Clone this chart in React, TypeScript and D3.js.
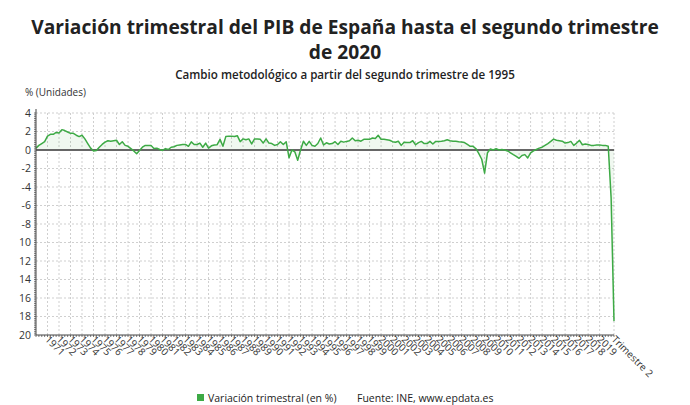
import React from "react";
import * as d3 from "d3";

// Quarterly GDP variation (%), 1970 Q1 .. 2020 Q2
const values1970s = [
  0.2, 0.5, 0.7, 0.9, 1.5, 1.7, 1.7, 1.9, 1.85, 2.2, 2.1, 1.95, 1.8, 1.8, 1.6, 1.45,
  1.6, 1.2, 0.7, 0.2, -0.1, -0.05, 0.3, 0.6, 0.85, 1.0, 0.95, 1.0, 1.05, 0.6, 0.9, 0.5,
  0.4, 0.15, -0.1, -0.4, -0.05, 0.3, 0.5, 0.5,
];
const values1980s = [
  0.5, 0.15, 0.2, 0.05, -0.05, 0.15, 0.05, 0.3, 0.35, 0.5, 0.55, 0.6, 0.6, 0.4, 0.88, 0.6,
  0.6, 0.75, 0.3, 0.75, 0.2, 0.45, 0.55, 0.57, 1.15, 0.4, 1.45, 1.5, 1.5, 1.45, 1.55, 0.9,
  1.2, 1.1, 1.2, 0.65, 1.2, 1.2, 1.15, 0.75,
];
const values1990s = [
  1.2, 0.75, 0.7, 0.5, 0.6, 0.9, 0.6, 0.9, -0.85, 0.0, -0.2, -1.1, 0.0, 0.95, 0.5, 0.93,
  0.5, 0.4, 0.7, 1.3, 0.55, 0.78, 0.65, 0.7, 0.9, 0.6, 0.95, 0.85, 0.93, 1.0, 1.3, 1.0,
  1.05, 0.95, 1.15, 1.15, 1.15, 1.3, 1.25, 1.6,
];
const values2000s = [
  1.15, 1.15, 1.1, 1.05, 0.9, 0.83, 0.95, 0.5, 0.85, 0.8, 0.8, 1.0, 0.57, 0.8, 0.93, 0.7,
  0.7, 0.93, 0.65, 0.93, 0.93, 0.95, 1.0, 1.1, 1.0, 0.95, 0.95, 0.9, 0.86, 0.8, 0.6, 0.4,
  0.4, 0.14, -0.4, -1.0, -2.5, -0.3, 0.1, 0.0,
];
const values2010s = [
  0.14, 0.0, 0.05, 0.0, -0.1, -0.3, -0.5, -0.68, -0.9, -0.6, -0.5, -0.86, -0.32, -0.1, 0.05, 0.2,
  0.3, 0.5, 0.7, 0.93, 1.18, 1.05, 1.0, 0.95, 0.75, 0.8, 0.93, 0.5, 0.75, 1.04, 0.57, 0.65,
  0.6, 0.5, 0.5, 0.55, 0.55, 0.5, 0.5, 0.4,
];
const values2020 = [-5.2, -18.5];

const values = [...values1970s, ...values1980s, ...values1990s, ...values2000s, ...values2010s, ...values2020];

const firstYear = 1970;
const labelYears = d3.range(1971, 2020);
const lastLabel = "Trimestre 2";
const yTicks = [4, 2, 0, -2, -4, -6, -8, -10, -12, -14, -16, -18, -20];
const yTickLabels = ["4", "2", "0", "-2", "-4", "-6", "-8", "10", "12", "14", "16", "18", "20"];

const title1 = "Variación trimestral del PIB de España hasta el segundo trimestre";
const title2 = "de 2020";
const subtitle = "Cambio metodológico a partir del segundo trimestre de 1995";
const unitLabel = "% (Unidades)";
const legendLabel = "Variación trimestral (en %)";
const sourceLabel = "Fuente: INE, www.epdata.es";

const W = 690;
const H = 405;
const left = 36;
const right = 614;
const top = 113;
const bottom = 335;
const green = "#3daa45";
const font = "'Open Sans', 'DejaVu Sans', sans-serif";

export default function App() {
  const x = d3.scaleLinear().domain([0, values.length - 1]).range([left, right]);
  const y = d3.scaleLinear().domain([-20, 4]).range([bottom, top]);

  const line = d3
    .line<number>()
    .x((_, i) => x(i))
    .y((d) => y(d));
  const area = d3
    .area<number>()
    .x((_, i) => x(i))
    .y0(y(0))
    .y1((d) => y(d));

  const yearIndex = (yr: number) => (yr - firstYear) * 4;
  const gridX = [...labelYears.map(yearIndex), values.length - 1];

  const yMinor = d3.range(-20, 4.001, 0.2);
  const xMinor = d3.range(0, values.length, 1);

  return (
    <svg
      width={W}
      height={H}
      style={{ position: "absolute", left: 0, top: 0, background: "#fff" }}
      fontFamily={font}
    >
      <rect width={W} height={H} fill="#fff" />
      <text x={345} y={34} textAnchor="middle" fontSize={19.2} fontWeight={700} fill="#222">
        {title1}
      </text>
      <text x={345} y={59} textAnchor="middle" fontSize={19.2} fontWeight={700} fill="#222">
        {title2}
      </text>
      <text x={345} y={79} textAnchor="middle" fontSize={11.6} fontWeight={600} fill="#222">
        {subtitle}
      </text>
      <text x={25} y={96} fontSize={10} fill="#333">
        {unitLabel}
      </text>

      {/* grid */}
      {yTicks.slice(0, -1).map((t) => (
        <line key={"gy" + t} x1={left} x2={right} y1={y(t)} y2={y(t)} stroke="#cfcfcf" strokeDasharray="2,2" />
      ))}
      {gridX.map((i) => (
        <line key={"gx" + i} x1={x(i)} x2={x(i)} y1={top} y2={bottom} stroke="#cfcfcf" strokeDasharray="2,2" />
      ))}

      {/* area + line */}
      <path d={area(values) || ""} fill={green} fillOpacity={0.08} />
      <line x1={left} x2={right} y1={y(0)} y2={y(0)} stroke="#666" strokeWidth={2} />
      <path d={line(values) || ""} fill="none" stroke={green} strokeWidth={1.5} strokeLinejoin="round" />

      {/* axes */}
      <line x1={left} x2={left} y1={top - 4} y2={bottom} stroke="#444" strokeWidth={1} />
      {yMinor.map((v, k) => (
        <line key={"ym" + k} x1={left - 2} x2={left} y1={y(v)} y2={y(v)} stroke="#444" strokeWidth={0.7} />
      ))}
      <line x1={left} x2={right} y1={bottom} y2={bottom} stroke="#444" strokeWidth={1} />
      {xMinor.map((i) => (
        <line key={"xm" + i} x1={x(i)} x2={x(i)} y1={bottom} y2={bottom + 2} stroke="#444" strokeWidth={0.7} />
      ))}

      {yTicks.map((t, k) => (
        <text key={"yl" + t} x={left - 5} y={y(t)} dy="0.35em" textAnchor="end" fontSize={10.5} fill="#333">
          {yTickLabels[k]}
        </text>
      ))}
      {labelYears.map((yr) => (
        <text
          key={"xl" + yr}
          transform={`translate(${x(yearIndex(yr)) - 3},${bottom + 5}) rotate(45)`}
          fontSize={10}
          fill="#333"
        >
          {String(yr)}
        </text>
      ))}
      <text
        transform={`translate(${x(values.length - 1) - 3},${bottom + 5}) rotate(45)`}
        fontSize={10}
        fill="#333"
      >
        {lastLabel}
      </text>

      {/* legend */}
      <rect x={197} y={394} width={7} height={7} fill={green} />
      <text x={208} y={402} fontSize={10.5} fill="#222">
        {legendLabel}
      </text>
      <text x={357} y={402} fontSize={10.5} fill="#222">
        {sourceLabel}
      </text>
    </svg>
  );
}
